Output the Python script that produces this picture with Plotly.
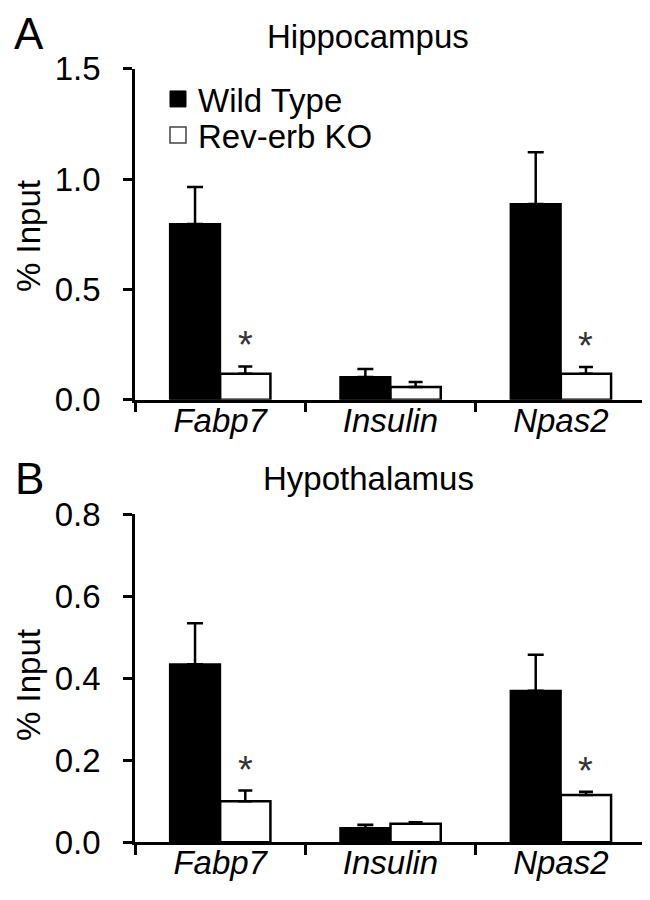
import plotly.graph_objects as go

# ---------------- data ----------------
genes = ["Fabp7", "Insulin", "Npas2"]
group_names = ["Wild Type", "Rev-erb KO"]

hippo_wt = [0.796, 0.103, 0.887]
hippo_wt_err = [0.168, 0.036, 0.234]
hippo_ko = [0.118, 0.058, 0.118]
hippo_ko_err = [0.033, 0.022, 0.030]
hippo_sig = [True, False, True]

hypo_wt = [0.434, 0.035, 0.369]
hypo_wt_err = [0.100, 0.008, 0.088]
hypo_ko = [0.100, 0.045, 0.115]
hypo_ko_err = [0.026, 0.004, 0.008]
hypo_sig = [True, False, True]

hippo_ticks = [0.0, 0.5, 1.0, 1.5]
hypo_ticks = [0.0, 0.2, 0.4, 0.6, 0.8]

panel_titles = ["Hippocampus", "Hypothalamus"]
panel_letters = ["A", "B"]
y_title = "% Input"

# ---------------- layout helpers ----------------
W, H = 650, 900
FONT = "Arial, Liberation Sans, Helvetica, sans-serif"
FS = 33


def px_x(p):
    return p / W


def px_y(p):
    return 1 - p / H


fig = go.Figure()

panels = [
    dict(wt=hippo_wt, wte=hippo_wt_err, ko=hippo_ko, koe=hippo_ko_err, sig=hippo_sig,
         xa="x", ya="y"),
    dict(wt=hypo_wt, wte=hypo_wt_err, ko=hypo_ko, koe=hypo_ko_err, sig=hypo_sig,
         xa="x2", ya="y2"),
]

for p in panels:
    fig.add_trace(go.Bar(
        x=genes, y=p["wt"], name=group_names[0],
        xaxis=p["xa"], yaxis=p["ya"],
        marker=dict(color="black", line=dict(color="black", width=2)),
        error_y=dict(type="data", array=p["wte"], arrayminus=[0] * 3, symmetric=False,
                     color="black", thickness=2.5, width=8),
        showlegend=False,
    ))
    fig.add_trace(go.Bar(
        x=genes, y=p["ko"], name=group_names[1],
        xaxis=p["xa"], yaxis=p["ya"],
        marker=dict(color="white", line=dict(color="black", width=2.5)),
        error_y=dict(type="data", array=p["koe"], arrayminus=[0] * 3, symmetric=False,
                     color="black", thickness=2.5, width=7),
        showlegend=False,
    ))

# legend entries (square swatches as in the original figure)
fig.add_trace(go.Scatter(x=[None], y=[None], mode="markers", name=group_names[0],
                         marker=dict(symbol="square", size=16, color="black",
                                     line=dict(color="black", width=1)),
                         legend="legend", xaxis="x", yaxis="y"))
fig.add_trace(go.Scatter(x=[None], y=[None], mode="markers", name=group_names[1],
                         marker=dict(symbol="square", size=16, color="white",
                                     line=dict(color="#444444", width=1.5)),
                         legend="legend2", xaxis="x", yaxis="y"))

axis_common = dict(
    showline=True, linecolor="black", linewidth=2.5,
    ticks="outside", tickcolor="black", tickwidth=2.5,
    showgrid=False, zeroline=False, automargin=False,
)

xdom = [px_x(127), px_x(638)]
fig.update_layout(
    width=W, height=H,
    margin=dict(l=0, r=0, t=0, b=0),
    plot_bgcolor="white", paper_bgcolor="white",
    font=dict(family=FONT, color="black", size=FS),
    barmode="group", bargap=0.41, bargroupgap=0,
    xaxis=dict(domain=xdom, anchor="y", type="category", range=[-0.5, 2.5],
               tickson="boundaries", ticklen=10,
               tickfont=dict(size=FS, style="italic"), ticklabelstandoff=-10, **axis_common),
    yaxis=dict(domain=[px_y(391.7), px_y(60.7)], anchor="x", range=[0, 1.5],
               tickvals=hippo_ticks, tickformat=".1f", ticklen=9,
               tickfont=dict(size=FS), ticklabelstandoff=16, **axis_common),
    xaxis2=dict(domain=xdom, anchor="y2", type="category", range=[-0.5, 2.5],
                tickson="boundaries", ticklen=10,
                tickfont=dict(size=FS, style="italic"), ticklabelstandoff=-11, **axis_common),
    yaxis2=dict(domain=[px_y(834.3), px_y(506)], anchor="x2", range=[0, 0.8],
                tickvals=hypo_ticks, tickformat=".1f", ticklen=9,
                tickfont=dict(size=FS), ticklabelstandoff=16, **axis_common),
    legend=dict(x=px_x(150), y=px_y(63), xanchor="left", yanchor="top",
                bgcolor="rgba(0,0,0,0)", font=dict(size=FS)),
    legend2=dict(x=px_x(150), y=px_y(99), xanchor="left", yanchor="top",
                 bgcolor="rgba(0,0,0,0)", font=dict(size=FS)),
)

annotations = []
# significance asterisks
for p in panels:
    for g, v, e, s in zip(genes, p["ko"], p["koe"], p["sig"]):
        if s:
            annotations.append(dict(
                x=g, y=v + e, xref=p["xa"], yref=p["ya"], text="*", showarrow=False,
                xshift=25, yshift=-2, yanchor="bottom",
                font=dict(size=38, color="#333333", family=FONT)))

# panel titles
for t, yc in zip(panel_titles, [28.5, 470]):
    annotations.append(dict(x=px_x(360), y=px_y(yc), xref="paper", yref="paper",
                            text=t, showarrow=False, xanchor="center", yanchor="middle",
                            font=dict(size=FS)))
# panel letters
for t, yc in zip(panel_letters, [26, 470]):
    annotations.append(dict(x=px_x(21), y=px_y(yc), xref="paper", yref="paper",
                            text=t, showarrow=False, xanchor="center", yanchor="middle",
                            font=dict(size=44)))
# y-axis titles
for yc in [228, 677]:
    annotations.append(dict(x=px_x(20), y=px_y(yc), xref="paper", yref="paper",
                            text=y_title, showarrow=False, textangle=-90,
                            xanchor="center", yanchor="middle", font=dict(size=FS)))

fig.update_layout(annotations=annotations)

fig.write_html("out.html")
